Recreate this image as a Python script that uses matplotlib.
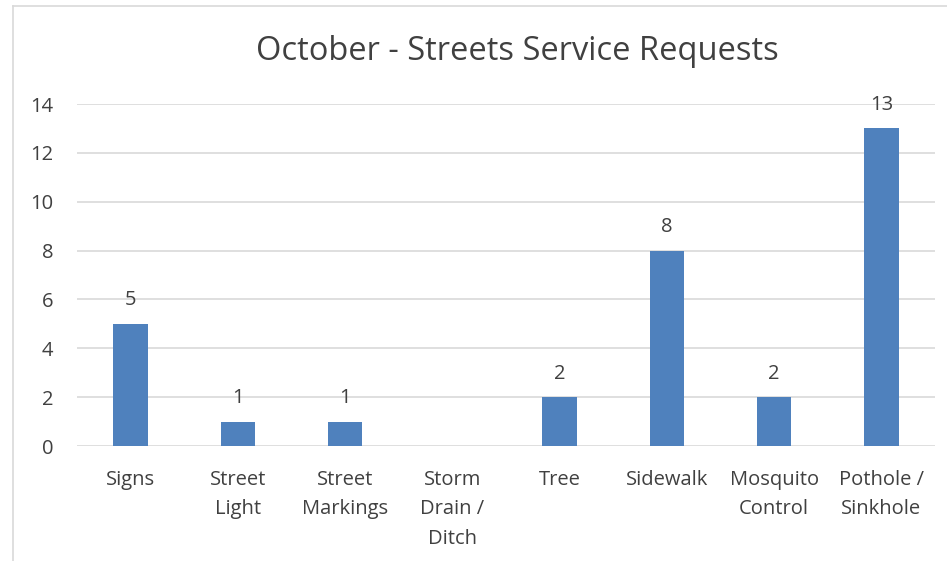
import matplotlib
matplotlib.use("Agg")
import matplotlib.pyplot as plt
from matplotlib.lines import Line2D
import numpy as np

categories = ["Signs", "Street\nLight", "Street\nMarkings", "Storm\nDrain /\nDitch",
              "Tree", "Sidewalk", "Mosquito\nControl", "Pothole /\nSinkhole"]
values = [5, 1, 1, 0, 2, 8, 2, 13]
yticks = [0, 2, 4, 6, 8, 10, 12, 14]
title = "October - Streets Service Requests"

plt.rcParams['font.family'] = ['Open Sans', 'DejaVu Sans']
txt = "#404040"
fs = 14.5

fig = plt.figure(figsize=(9.47, 5.61), dpi=100)
ax = fig.add_axes([77/947, 1-446/561, (935-77)/947, (446-104)/561])
x = np.arange(len(categories))
ax.bar(x, values, width=0.32, color="#4F81BD", zorder=3)
for xi, v in zip(x, values):
    if v > 0:
        ax.text(xi, v + 0.55, str(v), ha="center", va="bottom", fontsize=fs, color=txt)
ax.set_xlim(-0.5, len(categories) - 0.5)
ax.set_ylim(0, 14)
ax.set_yticks(yticks)
ax.set_yticklabels([str(t) for t in yticks], fontsize=fs, color=txt)
ax.set_xticks(x)
ax.set_xticklabels(categories, fontsize=fs, color=txt, linespacing=1.65)
ax.tick_params(axis="both", length=0)
ax.tick_params(axis="y", pad=17)
ax.tick_params(axis="x", pad=17)
ax.yaxis.grid(True, color="#D9D9D9", linewidth=1.2, zorder=0)
for s in ax.spines.values():
    s.set_visible(False)
fig.text(517/947, 1-52/561, title, ha="center", va="center", fontsize=23.5, color=txt)
fig.add_artist(Line2D([13/947, 13/947], [0, 1-6/561], transform=fig.transFigure, color="#D9D9D9", lw=1.2))
fig.add_artist(Line2D([13/947, 1], [1-6/561, 1-6/561], transform=fig.transFigure, color="#D9D9D9", lw=1.2))
fig.savefig("out.png", dpi=100, facecolor="white")
